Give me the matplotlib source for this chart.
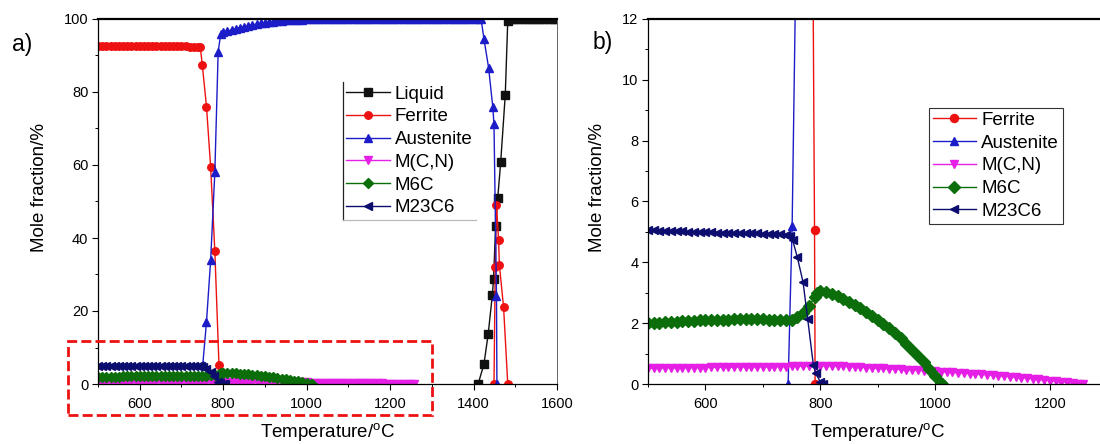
import numpy as np
import matplotlib
matplotlib.use('Agg')
import matplotlib.pyplot as plt
from matplotlib.lines import Line2D
from matplotlib.patches import Rectangle
from matplotlib.ticker import MultipleLocator

plt.rcParams['font.family'] = ['Liberation Sans', 'DejaVu Sans']
plt.rcParams['mathtext.fontset'] = 'custom'
plt.rcParams['mathtext.rm'] = 'Liberation Sans'

nan = float('nan')

# --- equilibrium phase fractions (mol %) vs temperature (degC) ---
liquid_T = [1411, 1425, 1435, 1445, 1448, 1453, 1458, 1465, 1476, 1482, 1490,
            1500, 1510, 1520, 1530, 1540, 1550, 1560, 1570, 1580, 1590, 1600]
liquid = [0.0, 5.5, 13.6, 24.3, 28.9, 43.4, 51.0, 60.7, 79.2, 99.5, 100.0,
          100.0, 100.0, 100.0, 100.0, 100.0, 100.0, 100.0, 100.0, 100.0, 100.0, 100.0]

ferrite_T = [500, 510, 520, 530, 540, 550, 560, 570, 580, 590, 600, 610, 620, 630,
             640, 650, 660, 670, 680, 690, 700, 710, 720, 730, 740, 745,
             750, 760, 770, 780, 790, 791,
             1100,
             1449, 1452, 1455, 1460, 1462, 1472, 1482]
ferrite = [92.6, 92.6, 92.6, 92.6, 92.6, 92.6, 92.6, 92.5, 92.5, 92.5, 92.5, 92.5, 92.5, 92.5,
           92.5, 92.5, 92.5, 92.5, 92.5, 92.5, 92.5, 92.5, 92.4, 92.4, 92.4, 92.4,
           87.4, 76.0, 59.4, 36.4, 5.07, 0.0,
           nan,
           0.0, 32.0, 49.0, 39.5, 32.5, 21.0, 0.0]

austenite_T = [744, 751, 760, 770, 780, 788, 794, 800, 810, 820, 830, 840, 850, 860,
               870, 880, 890, 900, 910, 920, 930, 940, 950, 960, 970, 980, 990, 1000,
               1010, 1020, 1030, 1040, 1050, 1060, 1070, 1080, 1090, 1100, 1110, 1120,
               1130, 1140, 1150, 1160, 1170, 1180, 1190, 1200, 1210, 1220, 1230, 1240,
               1250, 1260, 1270, 1280, 1290, 1300, 1310, 1320, 1330, 1340, 1350, 1360,
               1370, 1380, 1390, 1400, 1410, 1418, 1425, 1436, 1446, 1449, 1455, 1456]
austenite = [0.0, 5.2, 17.0, 34.0, 58.0, 91.0, 95.9, 96.4, 96.7, 97.0, 97.3, 97.6, 97.9, 98.2,
             98.4, 98.6, 98.8, 99.0, 99.1, 99.3, 99.4, 99.5, 99.6, 99.7, 99.7, 99.8, 99.8, 99.9,
             99.9, 99.9, 99.9, 100.0, 100.0, 100.0, 100.0, 100.0, 100.0, 100.0, 100.0, 100.0,
             100.0, 100.0, 100.0, 100.0, 100.0, 100.0, 100.0, 100.0, 100.0, 100.0, 100.0, 100.0,
             100.0, 100.0, 100.0, 100.0, 100.0, 100.0, 100.0, 100.0, 100.0, 100.0, 100.0, 100.0,
             100.0, 100.0, 100.0, 100.0, 100.0, 100.0, 94.5, 86.7, 76.0, 71.2, 24.0, 0.0]

mcn_T = [500, 510, 520, 530, 540, 550, 560, 570, 580, 590, 600, 610, 620, 630, 640,
         650, 660, 670, 680, 690, 700, 710, 720, 730, 740, 750, 760, 770, 780, 790,
         800, 810, 820, 830, 840, 850, 860, 870, 880, 890, 900, 910, 920, 930, 940,
         950, 960, 970, 980, 990, 1000, 1010, 1020, 1030, 1040, 1050, 1060, 1070, 1080,
         1090, 1100, 1110, 1120, 1130, 1140, 1150, 1160, 1170, 1180, 1190, 1200, 1210,
         1220, 1230, 1240, 1250, 1258]
mcn = [0.52, 0.52, 0.52, 0.53, 0.53, 0.53, 0.53, 0.54, 0.54, 0.54, 0.54, 0.55, 0.55, 0.55, 0.55,
       0.55, 0.56, 0.56, 0.56, 0.56, 0.56, 0.57, 0.57, 0.57, 0.57, 0.58, 0.58, 0.59, 0.59, 0.60,
       0.60, 0.60, 0.59, 0.59, 0.58, 0.57, 0.56, 0.55, 0.54, 0.53, 0.52, 0.51, 0.50, 0.49, 0.48,
       0.47, 0.46, 0.45, 0.44, 0.43, 0.42, 0.41, 0.39, 0.38, 0.37, 0.36, 0.34, 0.33, 0.32,
       0.30, 0.29, 0.27, 0.26, 0.24, 0.22, 0.21, 0.19, 0.17, 0.15, 0.13, 0.11, 0.09,
       0.07, 0.05, 0.03, 0.01, 0.0]

m6c_T = [500, 510, 520, 530, 540, 550, 560, 570, 580, 590, 600, 610, 620, 630, 640,
         650, 660, 670, 680, 690, 700, 710, 720, 730, 740, 750, 760, 770, 780, 790,
         795, 800, 810, 820, 830, 840, 850, 860, 870, 880, 890, 900, 910, 920, 930,
         940, 950, 960, 970, 980, 990, 1000, 1010, 1012]
m6c = [2.00, 2.01, 2.02, 2.03, 2.04, 2.05, 2.06, 2.07, 2.08, 2.09, 2.10, 2.11, 2.11, 2.12, 2.12,
       2.13, 2.13, 2.13, 2.13, 2.13, 2.13, 2.12, 2.12, 2.11, 2.10, 2.12, 2.20, 2.35, 2.55, 2.85,
       3.00, 3.05, 3.03, 2.96, 2.88, 2.80, 2.71, 2.61, 2.50, 2.38, 2.25, 2.12, 1.98, 1.83, 1.67,
       1.50, 1.32, 1.13, 0.93, 0.72, 0.50, 0.27, 0.04, 0.0]

m23c6_T = [500, 510, 520, 530, 540, 550, 560, 570, 580, 590, 600, 610, 620, 630, 640,
           650, 660, 670, 680, 690, 700, 710, 720, 730, 740, 748, 752, 760, 770, 778,
           788, 792, 800, 805]
m23c6 = [5.05, 5.05, 5.04, 5.04, 5.03, 5.02, 5.02, 5.01, 5.00, 5.00, 4.99, 4.99, 4.98, 4.98, 4.97,
         4.97, 4.96, 4.96, 4.95, 4.95, 4.94, 4.93, 4.92, 4.92, 4.90, 4.85, 4.72, 4.17, 3.35, 2.15,
         0.62, 0.35, 0.08, 0.0]

# name, temps, values, colour, marker
phases = [
    ('Liquid', liquid_T, liquid, '#111111', 's'),
    ('Ferrite', ferrite_T, ferrite, '#ee1111', 'o'),
    ('Austenite', austenite_T, austenite, '#1c1cc8', '^'),
    ('M(C,N)', mcn_T, mcn, '#e51fe5', 'v'),
    ('M6C', m6c_T, m6c, '#0b6e0b', 'D'),
    ('M23C6', m23c6_T, m23c6, '#0d0d70', '<'),
]

# zoomed window (panel b) outlined on panel a
box_T = (428, 1301)
box_y = (-8.4, 11.9)

fig = plt.figure(figsize=(11, 4.44), dpi=100)
ax_a = fig.add_axes([98/1100, 60/444, 459/1100, 365/444])
ax_b = fig.add_axes([648/1100, 60/444, 459.4/1100, 365/444])

leg_kw = dict(loc='upper left', fontsize=13.5, handlelength=2.3, handletextpad=0.27,
              labelspacing=0.3, borderpad=0.2, borderaxespad=0, fancybox=False, framealpha=1)

def style_axes(ax, xlim, ylim, ymaj, ymin):
    ax.set_xlim(*xlim); ax.set_ylim(*ylim)
    ax.xaxis.set_major_locator(MultipleLocator(200))
    ax.xaxis.set_minor_locator(MultipleLocator(100))
    ax.yaxis.set_major_locator(MultipleLocator(ymaj))
    ax.yaxis.set_minor_locator(MultipleLocator(ymin))
    ax.tick_params(which='major', direction='out', length=4, width=0.8, labelsize=10.5, pad=3)
    ax.tick_params(which='minor', direction='out', length=2.2, width=0.7)
    ax.tick_params(axis='x', which='major', pad=5)
    for s in ['left', 'bottom']:
        ax.spines[s].set_linewidth(0.9)
    ax.spines['top'].set_linewidth(1.6)
    ax.spines['right'].set_linewidth(0.7)
    ax.spines['right'].set_color('#666666')
    ax.set_xlabel('Temperature/$^\\mathrm{o}$C', fontsize=13.5, va='center')
    ax.set_ylabel('Mole fraction/%', fontsize=13.5, va='center')
    ax.xaxis.set_label_coords(0.5, -0.132)

# --- a) full temperature range ---
for name, T, v, c, m in phases:
    ax_a.plot(T, v, color=c, marker=m, ms=5.4, mec=c, mfc=c, lw=1.0, label=name)
style_axes(ax_a, (500, 1600), (0, 100), 20, 10)
ax_a.yaxis.set_label_coords(-0.128, 0.537)

ax_a.add_patch(Rectangle((box_T[0], box_y[0]), box_T[1] - box_T[0], box_y[1] - box_y[0],
                         fill=False, ec='#ee1111', lw=2.0, ls=(0, (3.6, 1.5)), clip_on=False, zorder=5))

leg_a = ax_a.legend(bbox_to_anchor=(0.533, 0.828), edgecolor='none', **leg_kw)

# --- b) carbide region ---
for name, T, v, c, m in phases[1:]:
    ax_b.plot(T, v, color=c, marker=m, ms=5.8, mec=c, mfc=c, lw=1.0, label=name)
style_axes(ax_b, (500, 1300), (0, 12), 2, 1)
ax_b.yaxis.set_label_coords(-0.11, 0.537)

leg_b = ax_b.legend(bbox_to_anchor=(0.612, 0.756), edgecolor='#333333', **leg_kw)
leg_b.get_frame().set_linewidth(0.8)

fig.text(22/1100, 1 - 45/444, 'a)', fontsize=16.5, ha='center', va='center')
fig.text(603/1100, 1 - 42/444, 'b)', fontsize=16.5, ha='center', va='center')

# legend a only shows its left and bottom edges
fig.canvas.draw()
bb = leg_a.get_frame().get_window_extent().transformed(fig.transFigure.inverted())
fig.add_artist(Line2D([bb.x0, bb.x0], [bb.y0, bb.y1], color='#222222', lw=0.9))
fig.add_artist(Line2D([bb.x0, bb.x1], [bb.y0, bb.y0], color='#bbbbbb', lw=0.9))

fig.savefig('out.png', dpi=100)
